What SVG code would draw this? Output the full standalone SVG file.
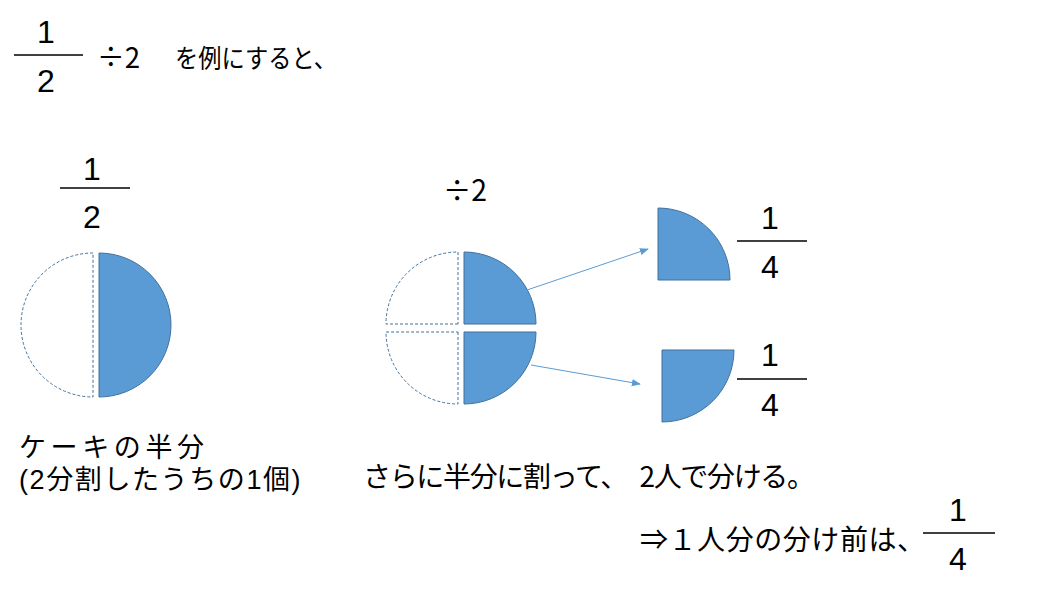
<svg xmlns="http://www.w3.org/2000/svg" width="1063" height="598" viewBox="0 0 1063 598">
<defs>
<style>
.t{font-family:"Liberation Sans","Noto Sans CJK JP",sans-serif;fill:#000}
.c{font-family:"Noto Sans CJK JP","Liberation Sans",sans-serif;fill:#000}
.d{font-size:32px;text-anchor:middle}
.j{font-size:28px}
.bar{stroke:#000;stroke-width:1.5}
.fill{fill:#5B9BD5;stroke:#41719C;stroke-width:1}
.dash{fill:#fff;stroke:#41719C;stroke-width:1;stroke-dasharray:3 2}
.arr{stroke:#5B9BD5;stroke-width:1;fill:none;marker-end:url(#ah)}
</style>
<marker id="ah" viewBox="0 0 10 10" refX="9" refY="5" markerWidth="9" markerHeight="9" markerUnits="userSpaceOnUse" orient="auto">
<path d="M0,1 L10,5 L0,9 Z" fill="#5B9BD5"/>
</marker>
</defs>
<rect width="1063" height="598" fill="#fff"/>
<g id="title">
<text class="t d" x="46" y="43">1</text>
<line class="bar" x1="14" y1="55" x2="83" y2="55"/>
<text class="t d" x="46" y="92">2</text>
<text class="c" x="97" y="68" font-size="29" textLength="43" lengthAdjust="spacingAndGlyphs">÷2</text>
<text class="c" x="175" y="68" font-size="26" textLength="162" lengthAdjust="spacingAndGlyphs">を例にすると、</text>
</g>
<g id="half">
<text class="t d" x="92" y="180">1</text>
<line class="bar" x1="60" y1="188" x2="130" y2="188"/>
<text class="t d" x="92" y="228">2</text>
<path class="dash" d="M93,253 A72,72 0 0 0 93,397 Z"/>
<path class="fill" d="M99,253 A72,72 0 0 1 99,397 Z"/>
<text class="t" font-size="27" x="19" y="457" letter-spacing="4.6">ケーキの半分</text>
<text class="t" font-size="27" x="19" y="489" letter-spacing="1.6">(2分割したうちの1個)</text>
</g>
<g id="quarters">
<text class="c" x="443" y="201" font-size="30" textLength="44" lengthAdjust="spacingAndGlyphs">÷2</text>
<path class="dash" d="M458,324 L386,324 A72,72 0 0 1 458,252 Z"/>
<path class="fill" d="M464,324 L464,252 A72,72 0 0 1 536,324 Z"/>
<path class="dash" d="M458,332 L458,404 A72,72 0 0 1 386,332 Z"/>
<path class="fill" d="M464,332 L536,332 A72,72 0 0 1 464,404 Z"/>
<text class="c j" x="363" y="487" textLength="452" lengthAdjust="spacing">さらに半分に割って、　2人で分ける。</text>
</g>
<g id="piece1">
<path class="fill" d="M658,280 L658,208 A72,72 0 0 1 730,280 Z"/>
<text class="t d" x="770" y="229">1</text>
<line class="bar" x1="737" y1="241" x2="807" y2="241"/>
<text class="t d" x="770" y="278">4</text>
</g>
<g id="piece2">
<path class="fill" d="M662,350 L734,350 A72,72 0 0 1 662,422 Z"/>
<text class="t d" x="770" y="366">1</text>
<line class="bar" x1="737" y1="379" x2="807" y2="379"/>
<text class="t d" x="770" y="416">4</text>
</g>
<g id="result">
<text class="c j" x="640" y="550" textLength="285" lengthAdjust="spacing">⇒１人分の分け前は、</text>
<text class="t d" x="958" y="521">1</text>
<line class="bar" x1="923" y1="533" x2="995" y2="533"/>
<text class="t d" x="958" y="570">4</text>
</g>
<g id="connectors">
<line class="arr" x1="527" y1="290" x2="648" y2="249"/>
<line class="arr" x1="531" y1="365" x2="640" y2="384"/>
</g>
</svg>
